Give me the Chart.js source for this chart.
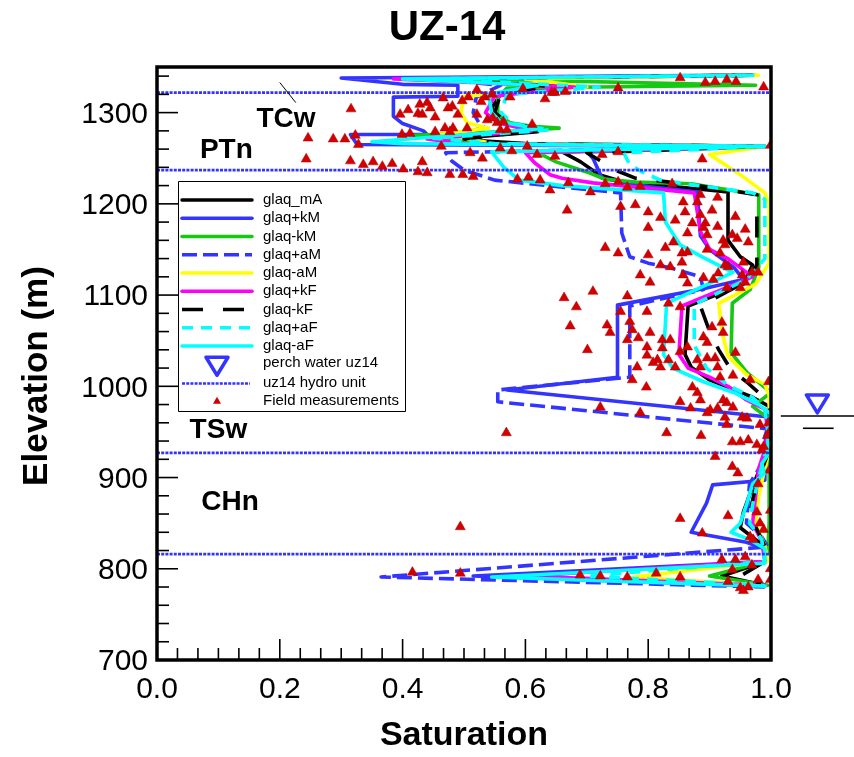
<!DOCTYPE html>
<html><head><meta charset="utf-8">
<script src="https://cdn.jsdelivr.net/npm/chart.js@4.4.0/dist/chart.umd.min.js"></script>
<style>html,body{margin:0;padding:0;background:#fff}#wrap{width:854px;height:757px}</style>
</head><body><div id="wrap"><canvas id="c" width="854" height="757"></canvas></div>
<script>
// ---------- DATA (saturation, elevation m) ----------
const chartTitle = 'UZ-14';
const xTitle = 'Saturation';
const yTitle = 'Elevation (m)';
const seriesNames = ['glaq_mA','glaq+kM','glaq-kM','glaq+aM','glaq-aM','glaq+kF','glaq-kF','glaq+aF','glaq-aF'];

const glaq_mA = [[0.96,1341],[0.42,1337],[0.66,1329],[0.56,1320],[0.545,1305],[0.56,1292],[0.60,1283],[0.62,1279],[0.48,1271],[0.60,1266],[0.99,1263],[0.66,1257],[0.69,1246],[0.72,1232],[0.76,1224],[0.84,1219],[0.93,1213],[0.93,1160],[0.95,1142],[0.97,1133],[0.955,1112],[0.865,1088],[0.86,1035],[0.87,1021],[0.90,1007],[0.94,996],[0.97,988],[0.997,978],[0.997,935],[0.985,915],[0.97,890],[0.955,862],[0.95,845],[0.975,832],[0.995,822],[0.99,808],[0.92,792],[0.99,782]];
const glaq_pkM = [[0.93,1341],[0.30,1338],[0.40,1331],[0.49,1330],[0.49,1318],[0.385,1317],[0.385,1296],[0.40,1288],[0.434,1280],[0.44,1276],[0.315,1276],[0.326,1265],[0.97,1263],[0.70,1257],[0.71,1250],[0.725,1228],[0.80,1219],[0.88,1213],[0.885,1165],[0.90,1150],[0.94,1130],[0.955,1117],[0.89,1107],[0.75,1089],[0.75,1010],[0.57,996],[1.0,966],[0.99,945],[0.995,928],[0.99,915],[0.99,897],[0.905,892],[0.895,872],[0.87,840],[0.96,829],[0.99,822],[0.99,808],[0.515,792],[0.99,781]];
const glaq_mkM = [[0.975,1341],[0.50,1337],[0.975,1330],[0.57,1327],[0.555,1316],[0.555,1298],[0.575,1289],[0.61,1285],[0.655,1283],[0.56,1279],[0.42,1275],[0.55,1266],[0.99,1263],[0.62,1256],[0.65,1246],[0.70,1235],[0.73,1227],[0.78,1224],[0.87,1222],[0.98,1210],[0.98,1130],[0.966,1106],[0.937,1091],[0.935,1037],[0.961,1015],[1.0,993],[0.97,978],[0.995,965],[0.998,930],[0.997,850],[0.995,822],[0.99,808],[0.90,792],[0.995,782]];
const glaq_paM = [[0.96,1341],[0.45,1337],[0.56,1330],[0.52,1317],[0.515,1300],[0.525,1288],[0.535,1283],[0.45,1273],[0.47,1266],[0.97,1263],[0.47,1256],[0.48,1247],[0.50,1237],[0.55,1226],[0.65,1219],[0.755,1212],[0.757,1168],[0.77,1142],[0.80,1135],[0.836,1130],[0.885,1120],[0.89,1106],[0.77,1088],[0.77,1010],[0.555,996],[0.555,983],[1.0,953],[0.99,925],[0.985,915],[0.965,893],[0.96,850],[0.985,835],[0.995,824],[0.365,791],[0.99,780]];
const glaq_maM = [[0.98,1341],[0.60,1337],[0.70,1328],[0.66,1325],[0.50,1318],[0.495,1300],[0.505,1289],[0.54,1283],[0.46,1276],[0.55,1266],[0.99,1263],[0.90,1254],[0.95,1232],[0.99,1212],[0.997,1200],[0.997,1135],[0.975,1112],[0.915,1091],[0.92,1060],[0.93,1033],[0.96,1013],[0.99,1002],[0.997,990],[0.997,930],[0.99,910],[0.98,880],[0.975,850],[0.99,825],[0.995,808],[0.775,791],[0.99,782]];
const glaq_pkF = [[0.97,1341],[0.385,1337],[0.68,1328],[0.55,1318],[0.535,1300],[0.555,1289],[0.61,1280],[0.44,1271],[0.50,1266],[0.99,1263],[0.60,1256],[0.615,1245],[0.64,1232],[0.66,1228],[0.71,1223],[0.875,1212],[0.885,1170],[0.90,1150],[0.93,1140],[0.97,1120],[0.855,1088],[0.85,1035],[0.865,1020],[0.90,1010],[0.93,1000],[0.96,985],[0.99,975],[0.995,950],[0.99,930],[0.98,910],[0.975,880],[0.97,850],[0.985,830],[0.99,808],[0.60,792],[0.99,782]];
const glaq_mkF = [[0.97,1341],[0.45,1337],[0.64,1329],[0.56,1321],[0.55,1300],[0.57,1290],[0.625,1281],[0.50,1271],[0.56,1266],[0.99,1263],[0.70,1256],[0.72,1248],[0.75,1236],[0.78,1228],[0.86,1222],[0.977,1210],[0.977,1133],[0.96,1115],[0.885,1088],[0.90,1060],[0.915,1040],[0.935,1018],[0.96,1005],[0.985,990],[0.997,975],[0.997,930],[0.975,890],[0.965,860],[0.99,825],[0.99,808],[0.95,792],[0.99,782]];
const glaq_paF = [[0.96,1341],[0.45,1337],[0.72,1328],[0.57,1320],[0.56,1300],[0.58,1288],[0.64,1281],[0.45,1272],[0.55,1266],[0.99,1263],[0.76,1256],[0.77,1243],[0.79,1235],[0.82,1226],[0.85,1223],[0.97,1212],[0.99,1205],[0.99,1140],[0.96,1117],[0.875,1090],[0.875,1045],[0.895,1020],[0.93,1001],[0.97,988],[0.99,975],[0.995,950],[0.99,925],[0.98,900],[0.97,870],[0.965,850],[0.985,832],[0.99,808],[0.70,792],[0.99,782]];
const glaq_maF = [[0.97,1341],[0.40,1337],[0.62,1330],[0.54,1320],[0.545,1300],[0.56,1290],[0.62,1282],[0.35,1268],[0.40,1266],[0.99,1263],[0.545,1257],[0.565,1240],[0.59,1226],[0.66,1220],[0.825,1212],[0.828,1180],[0.852,1155],[0.89,1141],[0.938,1125],[0.83,1091],[0.825,1035],[0.84,1020],[0.89,1005],[0.94,993],[0.98,980],[0.999,970],[0.995,945],[0.995,925],[0.985,915],[0.99,905],[0.97,893],[0.96,870],[0.95,850],[0.935,840],[0.965,832],[0.99,822],[0.99,806],[0.545,791],[0.99,781]];

const hydroUnitElev = [1322, 1237, 927, 816];
const unitLabels = ['TCw','PTn','TSw','CHn'];
const unitLabelPos = [[0.21,1293],[0.113,1259],[0.10,952],[0.119,873]];
const perchWater = [1.0755, 967.5];

const fieldMeasurements = [
[0.852,1338],[0.893,1333],[0.909,1334],[0.928,1336],[0.943,1334],[0.988,1328],[0.521,1325],[0.596,1326],[0.643,1322],[0.665,1323],[0.751,1327],[0.575,1317],[0.632,1315],[0.648,1322],
[0.316,1304],[0.396,1298],[0.409,1303],[0.428,1309],[0.440,1311],[0.445,1305],[0.425,1299],[0.432,1298],[0.453,1295],[0.466,1316],[0.474,1305],[0.481,1307],[0.490,1298],[0.497,1313],[0.507,1317],[0.521,1298],[0.534,1317],[0.546,1320],[0.528,1312],[0.538,1292],[0.547,1294],[0.554,1289],[0.564,1290],[0.559,1281],[0.570,1281],[0.611,1287],[0.505,1283],[0.453,1279],[0.469,1283],[0.482,1283],[0.477,1279],[0.399,1276],[0.412,1277],[0.287,1271],[0.306,1271],[0.323,1275],[0.328,1265],[0.463,1263],[0.510,1256],[0.530,1250],[0.559,1261],[0.578,1258],[0.603,1263],[0.619,1254],[0.648,1252],[0.725,1254],[0.751,1257],[0.888,1249],[0.999,1264],[0.315,1247],[0.336,1243],[0.352,1246],[0.367,1241],[0.383,1244],[0.401,1238],[0.425,1235],[0.432,1246],[0.440,1234],[0.243,1249],[0.246,1272],[0.477,1232],[0.498,1232],[0.515,1230],
[0.587,1227],[0.605,1229],[0.624,1226],[0.640,1215],[0.670,1223],[0.706,1213],[0.730,1222],[0.751,1224],[0.766,1218],[0.787,1219],[0.839,1222],[0.885,1210],[0.913,1207],[0.880,1202],[0.668,1193],[0.755,1197],[0.779,1199],[0.800,1191],[0.857,1202],[0.860,1191],[0.820,1185],[0.844,1182],[0.885,1188],[0.893,1179],[0.904,1193],[0.942,1186],[0.958,1172],[0.945,1162],[0.963,1158],[0.913,1175],[0.922,1160],[0.925,1155],[0.937,1166],[0.872,1179],[0.864,1168],[0.896,1166],[0.890,1174],[0.800,1174],[0.730,1152],[0.751,1146],[0.800,1144],[0.828,1152],[0.841,1158],[0.855,1146],[0.864,1147],[0.896,1150],[0.917,1146],[0.820,1133],[0.836,1131],[0.855,1136],[0.857,1122],[0.864,1113],[0.787,1122],[0.803,1114],[0.890,1119],[0.906,1117],[0.914,1124],[0.925,1133],[0.930,1131],[0.955,1136],[0.969,1125],[0.979,1125],[0.953,1122],[0.958,1114],[0.928,1108],[0.950,1108],[0.710,1104],
[0.766,1099],[0.663,1097],[0.683,1087],[0.755,1082],[0.798,1082],[0.833,1091],[0.852,1087],[0.673,1066],[0.733,1067],[0.738,1059],[0.770,1071],[0.774,1062],[0.803,1059],[0.784,1053],[0.766,1051],[0.701,1040],[0.823,1051],[0.836,1051],[0.798,1043],[0.823,1042],[0.798,1034],[0.782,1021],[0.815,1029],[0.808,1026],[0.820,1021],[0.774,1007],[0.797,999],[0.833,1029],[0.844,1021],[0.852,1038],[0.864,1043],[0.880,1029],[0.885,1021],[0.896,1031],[0.904,1065],[0.890,1054],[0.896,1048],[0.909,1031],[0.920,1070],[0.922,1059],[0.913,1021],[0.917,1010],[0.938,1012],[0.942,1037],[0.966,1007],[0.996,1005],[0.872,999],[0.880,993],[0.885,985],[0.852,983],[0.869,976],[0.901,974],[0.913,976],[0.922,985],[0.928,982],[0.938,977],[0.953,966],[0.961,965],[0.722,977],[0.787,971],[0.925,966],[0.569,949],[0.830,949],[0.886,946],[0.896,971],[0.928,958],[0.937,939],[0.950,939],[0.963,941],[0.977,936],[0.988,934],[0.994,946],[0.999,952],[0.982,958],[0.996,960],[0.909,923],[0.937,912],[0.946,905],[0.979,893],[0.999,908],[0.985,930],
[0.999,910],[0.852,855],[0.930,858],[0.977,862],[0.999,864],[0.888,839],[0.966,835],[0.982,850],[0.988,843],[0.971,832],[0.494,846],
[0.416,796],[0.494,795],[0.689,793],[0.722,792],[0.766,791],[0.813,795],[0.852,791],[0.920,810],[0.942,810],[0.958,813],[0.969,804],[0.937,799],[0.930,786],[0.950,779],[0.963,780],[0.979,788],[0.999,788],[0.955,776],[0.999,800]
];

const xTickValues = [0, 0.2, 0.4, 0.6, 0.8, 1.0];
const yTickValues = [700, 800, 900, 1000, 1100, 1200, 1300];

// ---------- STYLES ----------
const FONT = "'Liberation Sans', Arial, Helvetica, sans-serif";
const BLUE = '#3434ff';
const seriesData = [glaq_mA, glaq_pkM, glaq_mkM, glaq_paM, glaq_maM, glaq_pkF, glaq_mkF, glaq_paF, glaq_maF];
const seriesStyle = [
  {color:'#000000', dash:[]},
  {color:BLUE, dash:[]},
  {color:'#14c814', dash:[]},
  {color:BLUE, dash:[15,6]},
  {color:'#ffff00', dash:[]},
  {color:'#ff00ff', dash:[]},
  {color:'#000000', dash:[21,20]},
  {color:'#00ffff', dash:[11,8]},
  {color:'#00ffff', dash:[]}
];
const toXY = a => a.map(p => ({x:p[0], y:p[1]}));

const datasets = [];
datasets.push({label:'Field measurements', data:toXY(fieldMeasurements), showLine:false,
  pointStyle:'triangle', pointRadius:5.8, pointHoverRadius:5.8, backgroundColor:'#d20000', borderColor:'#b40000', borderWidth:0.5, order:0});
hydroUnitElev.forEach((e,i)=>datasets.push({label:'uz14 hydro unit', data:[{x:0,y:e},{x:1,y:e}], showLine:true, pointRadius:0,
  borderColor:BLUE, borderWidth:2.8, borderDash:[3,1.2], order:1}));
seriesNames.forEach((n,i)=>datasets.push({label:n, data:toXY(seriesData[i]), showLine:true, pointRadius:0, tension:0,
  borderColor:seriesStyle[i].color, borderWidth:3.6, borderDash:seriesStyle[i].dash,
  borderCapStyle: seriesStyle[i].dash.length ? 'butt':'round', borderJoinStyle:'round', order: 20 - i}));

const deco = {
  id:'deco',
  beforeDraw(chart){ const c=chart.ctx; c.save(); c.fillStyle='#fff'; c.fillRect(0,0,chart.width,chart.height); c.restore(); },
  afterDraw(chart){
    const {ctx, chartArea:a, scales:{x, y}} = chart;
    ctx.save();
    // frame
    ctx.strokeStyle='#000'; ctx.lineWidth=3.5;
    ctx.strokeRect(a.left, a.top, a.right-a.left, a.bottom-a.top);
    // inward ticks
    ctx.lineWidth=1.6;
    for(let v=700; v<=1340; v+=20){ const py=y.getPixelForValue(v); const L=(v%100===0)?21:12;
      ctx.beginPath(); ctx.moveTo(a.left, py); ctx.lineTo(a.left+L, py); ctx.stroke(); }
    for(let i=0;i<=30;i++){ const px=x.getPixelForValue(i/30); const L=(i%6===0)?21:12;
      ctx.beginPath(); ctx.moveTo(px, a.bottom); ctx.lineTo(px, a.bottom-L); ctx.stroke(); }
    // titles
    ctx.fillStyle='#000'; ctx.textAlign='center'; ctx.textBaseline='middle';
    ctx.font='bold 42px '+FONT; ctx.fillText(chartTitle, 447, 28);
    ctx.font='bold 34px '+FONT; ctx.fillText(xTitle, (a.left+a.right)/2, 736);
    ctx.save(); ctx.translate(37, 376); ctx.rotate(-Math.PI/2); ctx.font='bold 35px '+FONT; ctx.fillText(yTitle,0,0); ctx.restore();
    // unit labels
    ctx.font='bold 28px '+FONT;
    unitLabels.forEach((t,i)=>ctx.fillText(t, x.getPixelForValue(unitLabelPos[i][0]), y.getPixelForValue(unitLabelPos[i][1])));
    ctx.lineWidth=1; ctx.beginPath(); ctx.moveTo(x.getPixelForValue(0.2), y.getPixelForValue(1333)); ctx.lineTo(x.getPixelForValue(0.226), y.getPixelForValue(1311)); ctx.stroke();
    // perched water symbol
    const wx=x.getPixelForValue(perchWater[0]), wy=y.getPixelForValue(perchWater[1]);
    ctx.strokeStyle='#000'; ctx.lineWidth=1.6;
    ctx.beginPath(); ctx.moveTo(x.getPixelForValue(1.016), wy); ctx.lineTo(x.getPixelForValue(1.14), wy); ctx.stroke();
    const wy2=y.getPixelForValue(954);
    ctx.beginPath(); ctx.moveTo(x.getPixelForValue(1.052), wy2); ctx.lineTo(x.getPixelForValue(1.102), wy2); ctx.stroke();
    ctx.strokeStyle=BLUE; ctx.lineWidth=3.5; ctx.lineJoin='round';
    ctx.beginPath(); ctx.moveTo(wx-11, wy-21); ctx.lineTo(wx+11, wy-21); ctx.lineTo(wx, wy-3); ctx.closePath(); ctx.stroke();
    // legend
    const lx=a.left+21, ly=a.top+114, lw=227, lh=230;
    ctx.fillStyle='#fff'; ctx.fillRect(lx,ly,lw,lh);
    ctx.strokeStyle='#000'; ctx.lineWidth=1; ctx.strokeRect(lx+0.5,ly+0.5,lw,lh);
    const rowY = i => ly + 19 + i*18.25;
    ctx.font='15px '+FONT; ctx.textAlign='left'; ctx.textBaseline='middle';
    seriesNames.forEach((n,i)=>{
      const st=seriesStyle[i]; const yy=rowY(i);
      ctx.strokeStyle=st.color; ctx.lineWidth=3.5; ctx.setLineDash(st.dash); ctx.lineCap=st.dash.length?'butt':'round';
      ctx.beginPath(); ctx.moveTo(lx+4, yy); ctx.lineTo(lx+74, yy); ctx.stroke(); ctx.setLineDash([]);
      ctx.fillStyle='#000'; ctx.fillText(n, lx+85, yy);
    });
    // perch legend
    let yy=rowY(9)+2; const cx=lx+39;
    ctx.strokeStyle=BLUE; ctx.lineWidth=3.5; ctx.lineCap='butt';
    ctx.beginPath(); ctx.moveTo(cx-11, yy-9); ctx.lineTo(cx+11, yy-9); ctx.lineTo(cx, yy+9); ctx.closePath(); ctx.stroke();
    ctx.fillStyle='#000'; ctx.fillText('perch water uz14', lx+85, rowY(9)-1);
    yy=rowY(10);
    ctx.lineWidth=2.5; ctx.setLineDash([3,1.2]); ctx.beginPath(); ctx.moveTo(lx+4, yy+1); ctx.lineTo(lx+72, yy+1); ctx.stroke(); ctx.setLineDash([]);
    ctx.fillText('uz14 hydro unit', lx+85, yy);
    yy=rowY(11);
    ctx.fillStyle='#d20000'; ctx.beginPath(); ctx.moveTo(cx, yy-4); ctx.lineTo(cx+4, yy+3); ctx.lineTo(cx-4, yy+3); ctx.closePath(); ctx.fill();
    ctx.fillStyle='#000'; ctx.fillText('Field measurements', lx+85, yy);
    ctx.restore();
  }
};

Chart.defaults.font.family = FONT;
new Chart(document.getElementById('c'), {
  type:'scatter',
  data:{datasets},
  options:{
    responsive:false, animation:false, devicePixelRatio:1,
    layout:{padding:{top:67, right:83, left:0, bottom:0}},
    plugins:{legend:{display:false}, tooltip:{enabled:false}, title:{display:false}},
    scales:{
      x:{type:'linear', min:0, max:1,
        afterBuildTicks:s=>{ s.ticks = xTickValues.map(v=>({value:v})); },
        afterFit:s=>{ s.height = 97; },
        grid:{display:false, drawTicks:false, tickLength:0}, border:{display:false},
        ticks:{font:{size:30}, color:'#000', padding:12, maxRotation:0, autoSkip:false, callback:v=>Number(v).toFixed(1)}},
      y:{type:'linear', min:700, max:1350,
        afterBuildTicks:s=>{ s.ticks = yTickValues.map(v=>({value:v})); },
        afterFit:s=>{ s.width = 157; },
        grid:{display:false, drawTicks:false, tickLength:0}, border:{display:false},
        ticks:{font:{size:30}, color:'#000', padding:9, labelOffset:2, autoSkip:false, callback:v=>String(v)}}
    }
  },
  plugins:[deco]
});
</script>
</body></html>
